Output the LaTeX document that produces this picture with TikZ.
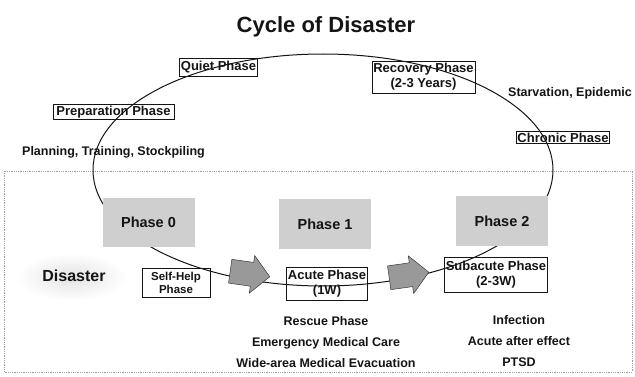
\documentclass[tikz,border=0pt]{standalone}
\usepackage{fontspec}
\setmainfont{Liberation Sans}
\usetikzlibrary{calc}

\definecolor{inkblack}{gray}{0.08}
\definecolor{phasegray}{gray}{0.81}
\definecolor{arrowgray}{gray}{0.60}
\definecolor{framegray}{gray}{0.62}

\tikzset{
  cycleline/.style={draw=inkblack, line width=1pt},
  labelbox/.style={draw=inkblack, line width=0.9pt, inner sep=1.2pt, align=center,
                   text=inkblack, font=\fontsize{13}{15}\selectfont\bfseries},
  phasebox/.style={fill=phasegray, minimum width=92pt, minimum height=49pt, inner sep=0pt,
                   text=inkblack, font=\fontsize{14.5}{17}\selectfont\bfseries},
  note/.style={text=inkblack, align=center, inner sep=0pt,
               font=\fontsize{12.5}{21}\selectfont\bfseries},
  fatarrow/.style={fill=arrowgray, draw=gray!45!black, line width=0.5pt, line join=round},
}

\begin{document}
\begin{tikzpicture}[x=1pt, y=-1pt]
  \useasboundingbox (0,0) rectangle (635,377);

  % title
  \node[text=inkblack, font=\fontsize{22}{26}\selectfont\bfseries] (title) at (326,27) {Cycle of Disaster};

  % disaster area
  \draw[framegray, line width=0.8pt, densely dotted] (4,171) rectangle (632,372);
  \shade[inner color=gray!22, outer color=white] (72,277) ellipse (55pt and 24pt);

  % the cycle itself
  \draw[cycleline] (323,170) ellipse (230pt and 116pt);

  % phase blocks sit on top of the cycle
  \node[phasebox] (p0) at (148.5,222.5) {Phase 0};
  \node[phasebox] (p1) at (325,224) {Phase 1};
  \node[phasebox] (p2) at (502,221) {Phase 2};

  % fat arrows along the lower arc
  \coordinate (a1) at (250,274);
  \coordinate (a2) at (409,275);
  \begin{scope}[shift={(a1)}, rotate=-8]
    \path[fatarrow] (-20,-12) -- (2,-12) -- (2,-19) -- (20,0) -- (2,19) -- (2,12) -- (-20,12) -- cycle;
  \end{scope}
  \begin{scope}[shift={(a2)}, rotate=8]
    \path[fatarrow] (-20,-12) -- (2,-12) -- (2,-19) -- (20,0) -- (2,19) -- (2,12) -- (-20,12) -- cycle;
  \end{scope}

  % phase labels
  \node[labelbox, minimum width=77pt, minimum height=18pt] (quiet) at (218.5,67.5) {Quiet Phase};
  \node[labelbox, minimum width=103pt, minimum height=32pt] (recov) at (423.5,77) {Recovery Phase\\(2-3 Years)};
  \node[labelbox, minimum width=121pt] (prep) at (113.5,112) {Preparation Phase};
  \node[labelbox, minimum width=92pt] (chron) at (563,137.5) {Chronic Phase};
  \node[labelbox, minimum width=68pt, minimum height=29pt,
        font=\fontsize{11.5}{13}\selectfont\bfseries] (self) at (176,282.5) {Self-Help\\Phase};
  \node[labelbox, minimum width=80pt, minimum height=33pt] (acute) at (327,283.5) {Acute Phase\\(1W)};
  \node[labelbox, minimum width=103pt, minimum height=35pt] (sub) at (496,275) {Subacute Phase\\(2-3W)};

  % free text
  \node[note] (starv) at (570,93) {Starvation, Epidemic};
  \node[note] (plan) at (113.5,152) {Planning, Training, Stockpiling};
  \node[text=inkblack, font=\fontsize{16}{19}\selectfont\bfseries] (dis) at (74,276) {Disaster};
  \node[note] (acnotes) at (326,342) {Rescue Phase\\Emergency Medical Care\\Wide-area Medical Evacuation};
  \node[note] (subnotes) at (519,341) {Infection\\Acute after effect\\PTSD};
\end{tikzpicture}
\end{document}
